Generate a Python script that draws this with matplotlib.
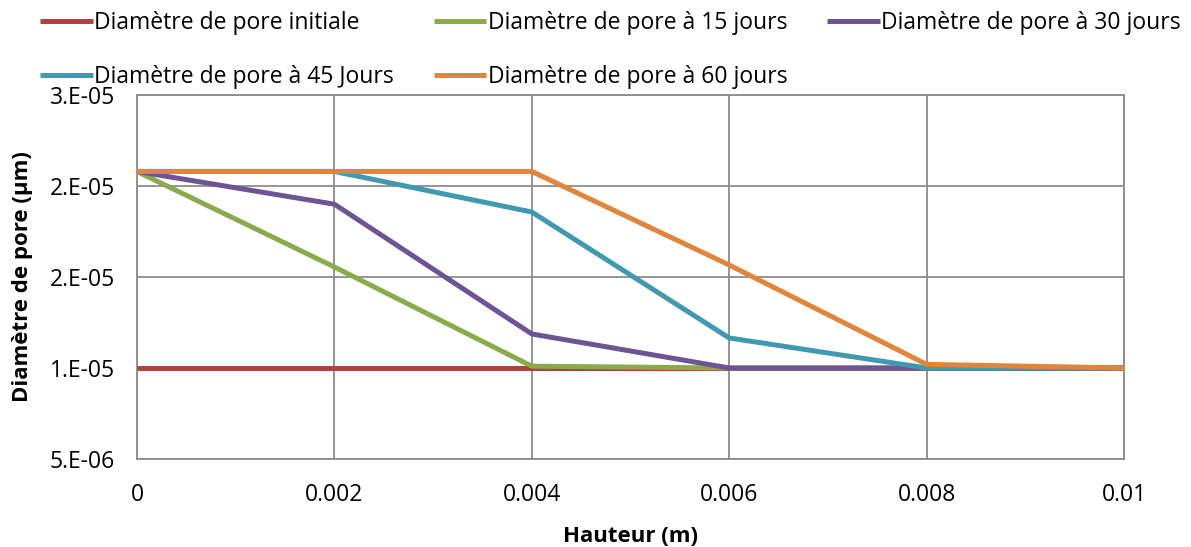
import matplotlib.pyplot as plt

# data
hauteur = [0, 0.002, 0.004, 0.006, 0.008, 0.01]
d_initiale = [1.0e-5, 1.0e-5, 1.0e-5, 1.0e-5, 1.0e-5, 1.0e-5]
d_15j = [2.08e-5, 1.555e-5, 1.01e-5, 1.0e-5, 1.0e-5, 1.0e-5]
d_30j = [2.08e-5, 1.90e-5, 1.187e-5, 1.0e-5, 1.0e-5, 1.0e-5]
d_45j = [2.08e-5, 2.08e-5, 1.857e-5, 1.165e-5, 1.0e-5, 1.0e-5]
d_60j = [2.08e-5, 2.08e-5, 2.08e-5, 1.566e-5, 1.02e-5, 1.0e-5]

labels = ['Diamètre de pore initiale', 'Diamètre de pore à 15 jours',
          'Diamètre de pore à 30 jours', 'Diamètre de pore à 45 Jours',
          'Diamètre de pore à 60 jours']
colors = ['#B0413E', '#8AAA4B', '#6E5494', '#4099B1', '#E0853B']

yticks = [5e-6, 1e-5, 1.5e-5, 2e-5, 2.5e-5]
ytick_labels = ['5.E-06', '1.E-05', '2.E-05', '2.E-05', '3.E-05']
xticks = [0, 0.002, 0.004, 0.006, 0.008, 0.01]
xtick_labels = ['0', '0.002', '0.004', '0.006', '0.008', '0.01']

plt.rcParams['font.family'] = ['Open Sans', 'DejaVu Sans']

fig = plt.figure(figsize=(11.91, 5.47), dpi=100)
ax = fig.add_axes([137 / 1191, 1 - 459 / 547, (1124 - 137) / 1191, (459 - 95) / 547])

lines = []
for y, c, lab in zip([d_initiale, d_15j, d_30j, d_45j, d_60j], colors, labels):
    ln, = ax.plot(hauteur, y, color=c, lw=3.6, label=lab, solid_capstyle='butt', zorder=3)
    lines.append(ln)

ax.set_xlim(0, 0.01)
ax.set_ylim(5e-6, 2.5e-5)
ax.set_xticks(xticks)
ax.set_xticklabels(xtick_labels)
ax.set_yticks(yticks)
ax.set_yticklabels(ytick_labels)
ax.tick_params(length=0, labelsize=16.5)
ax.tick_params(axis='y', pad=16)
ax.tick_params(axis='x', pad=17)
ax.grid(True, color='#8C8C8C', lw=1.3)
for s in ax.spines.values():
    s.set_color('#8C8C8C')
    s.set_linewidth(1.3)

ax.set_xlabel('Hauteur (m)', fontsize=16, fontweight='bold', labelpad=14)
ax.set_ylabel('Diamètre de pore (µm)', fontsize=16, fontweight='bold', labelpad=12)

# row-wise legend order for 3 columns
order = [0, 3, 1, 4, 2]
fig.legend([lines[i] for i in order], [labels[i] for i in order],
           loc='upper left', bbox_to_anchor=(40 / 1191, 1 - 11 / 547), ncol=3,
           frameon=False, fontsize=16.5, handlelength=2.3, handletextpad=0.05,
           columnspacing=1.75, labelspacing=1.3, borderaxespad=0, borderpad=0)

fig.savefig('out.png', dpi=100)
